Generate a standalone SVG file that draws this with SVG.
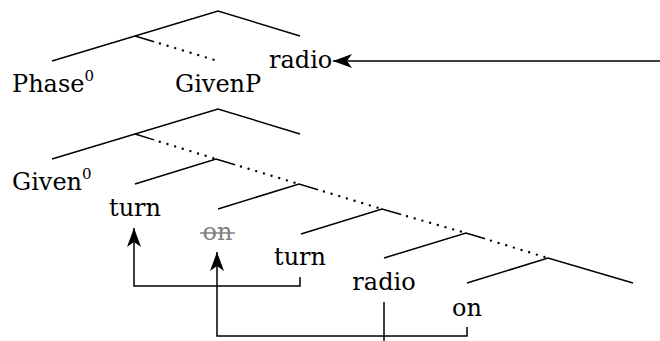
<svg xmlns="http://www.w3.org/2000/svg" width="660" height="341" viewBox="0 0 660 341">
<defs>
<marker id="ah" markerUnits="userSpaceOnUse" markerWidth="22" markerHeight="18" viewBox="0 0 22 18" refX="20" refY="9" orient="auto">
<path d="M20,9 L1,2 L6,9 L1,16 Z" fill="#000"/>
</marker>
</defs>
<style>
.e{fill:none;stroke:#000;stroke-width:1.5;stroke-linecap:butt}
.d{fill:none;stroke:#000;stroke-width:2.4;stroke-linecap:round;stroke-dasharray:0 8}
.a{fill:none;stroke:#000;stroke-width:1.5;marker-end:url(#ah)}
.t{font-family:"DejaVu Serif","Liberation Serif",serif;font-size:24px;fill:#000}
.s{font-size:15px}
</style>
<g id="connectors">
<path class="e" d="M52,61 L218,11 L300,36"/>
<path class="e" d="M135,36 L154.1,41.8"/>
<path class="d" d="M159.9,43.5 L218,61"/>
<path class="e" d="M52,159 L218,109 L300,134"/>
<path class="e" d="M135,134 L154.1,139.9"/>
<path class="d" d="M159.8,141.7 L216,159"/>
<path class="e" d="M135,184 L216,159 L235.1,164.8"/>
<path class="d" d="M240.9,166.5 L299,184"/>
<path class="e" d="M218,209 L299,184 L318.1,189.8"/>
<path class="d" d="M323.9,191.5 L382,209"/>
<path class="e" d="M301,234 L382,209 L401.2,214.5"/>
<path class="d" d="M407,216.2 L466,233"/>
<path class="e" d="M384,258 L466,233 L485.1,238.8"/>
<path class="d" d="M490.9,240.6 L548,258"/>
<path class="e" d="M467,283 L548,258 L633,283"/>
<path class="a" d="M660,61 H333"/>
<path class="a" d="M300,277 V286 H134 V228"/>
<path class="a" d="M467,327 V336 H217 V252"/>
<path class="e" d="M384,302 V341"/>
</g>
<g id="phase0"><text class="t" x="12" y="92">Phase<tspan class="s" dy="-11">0</tspan></text></g>
<g id="givenP"><text class="t" x="175" y="92">GivenP</text></g>
<g id="radio-top"><text class="t" x="269" y="68">radio</text></g>
<g id="given0"><text class="t" x="12" y="190">Given<tspan class="s" dy="-11">0</tspan></text></g>
<g id="turn1"><text class="t" x="135" y="216" text-anchor="middle">turn</text></g>
<g id="on-struck"><text class="t" x="217.5" y="240" text-anchor="middle" style="fill:#808080">on</text><line x1="200" y1="233" x2="235" y2="233" stroke="#808080" stroke-width="1.5"/></g>
<g id="turn2"><text class="t" x="300" y="265" text-anchor="middle">turn</text></g>
<g id="radio2"><text class="t" x="384" y="290" text-anchor="middle">radio</text></g>
<g id="on2"><text class="t" x="467" y="316" text-anchor="middle">on</text></g>
</svg>
